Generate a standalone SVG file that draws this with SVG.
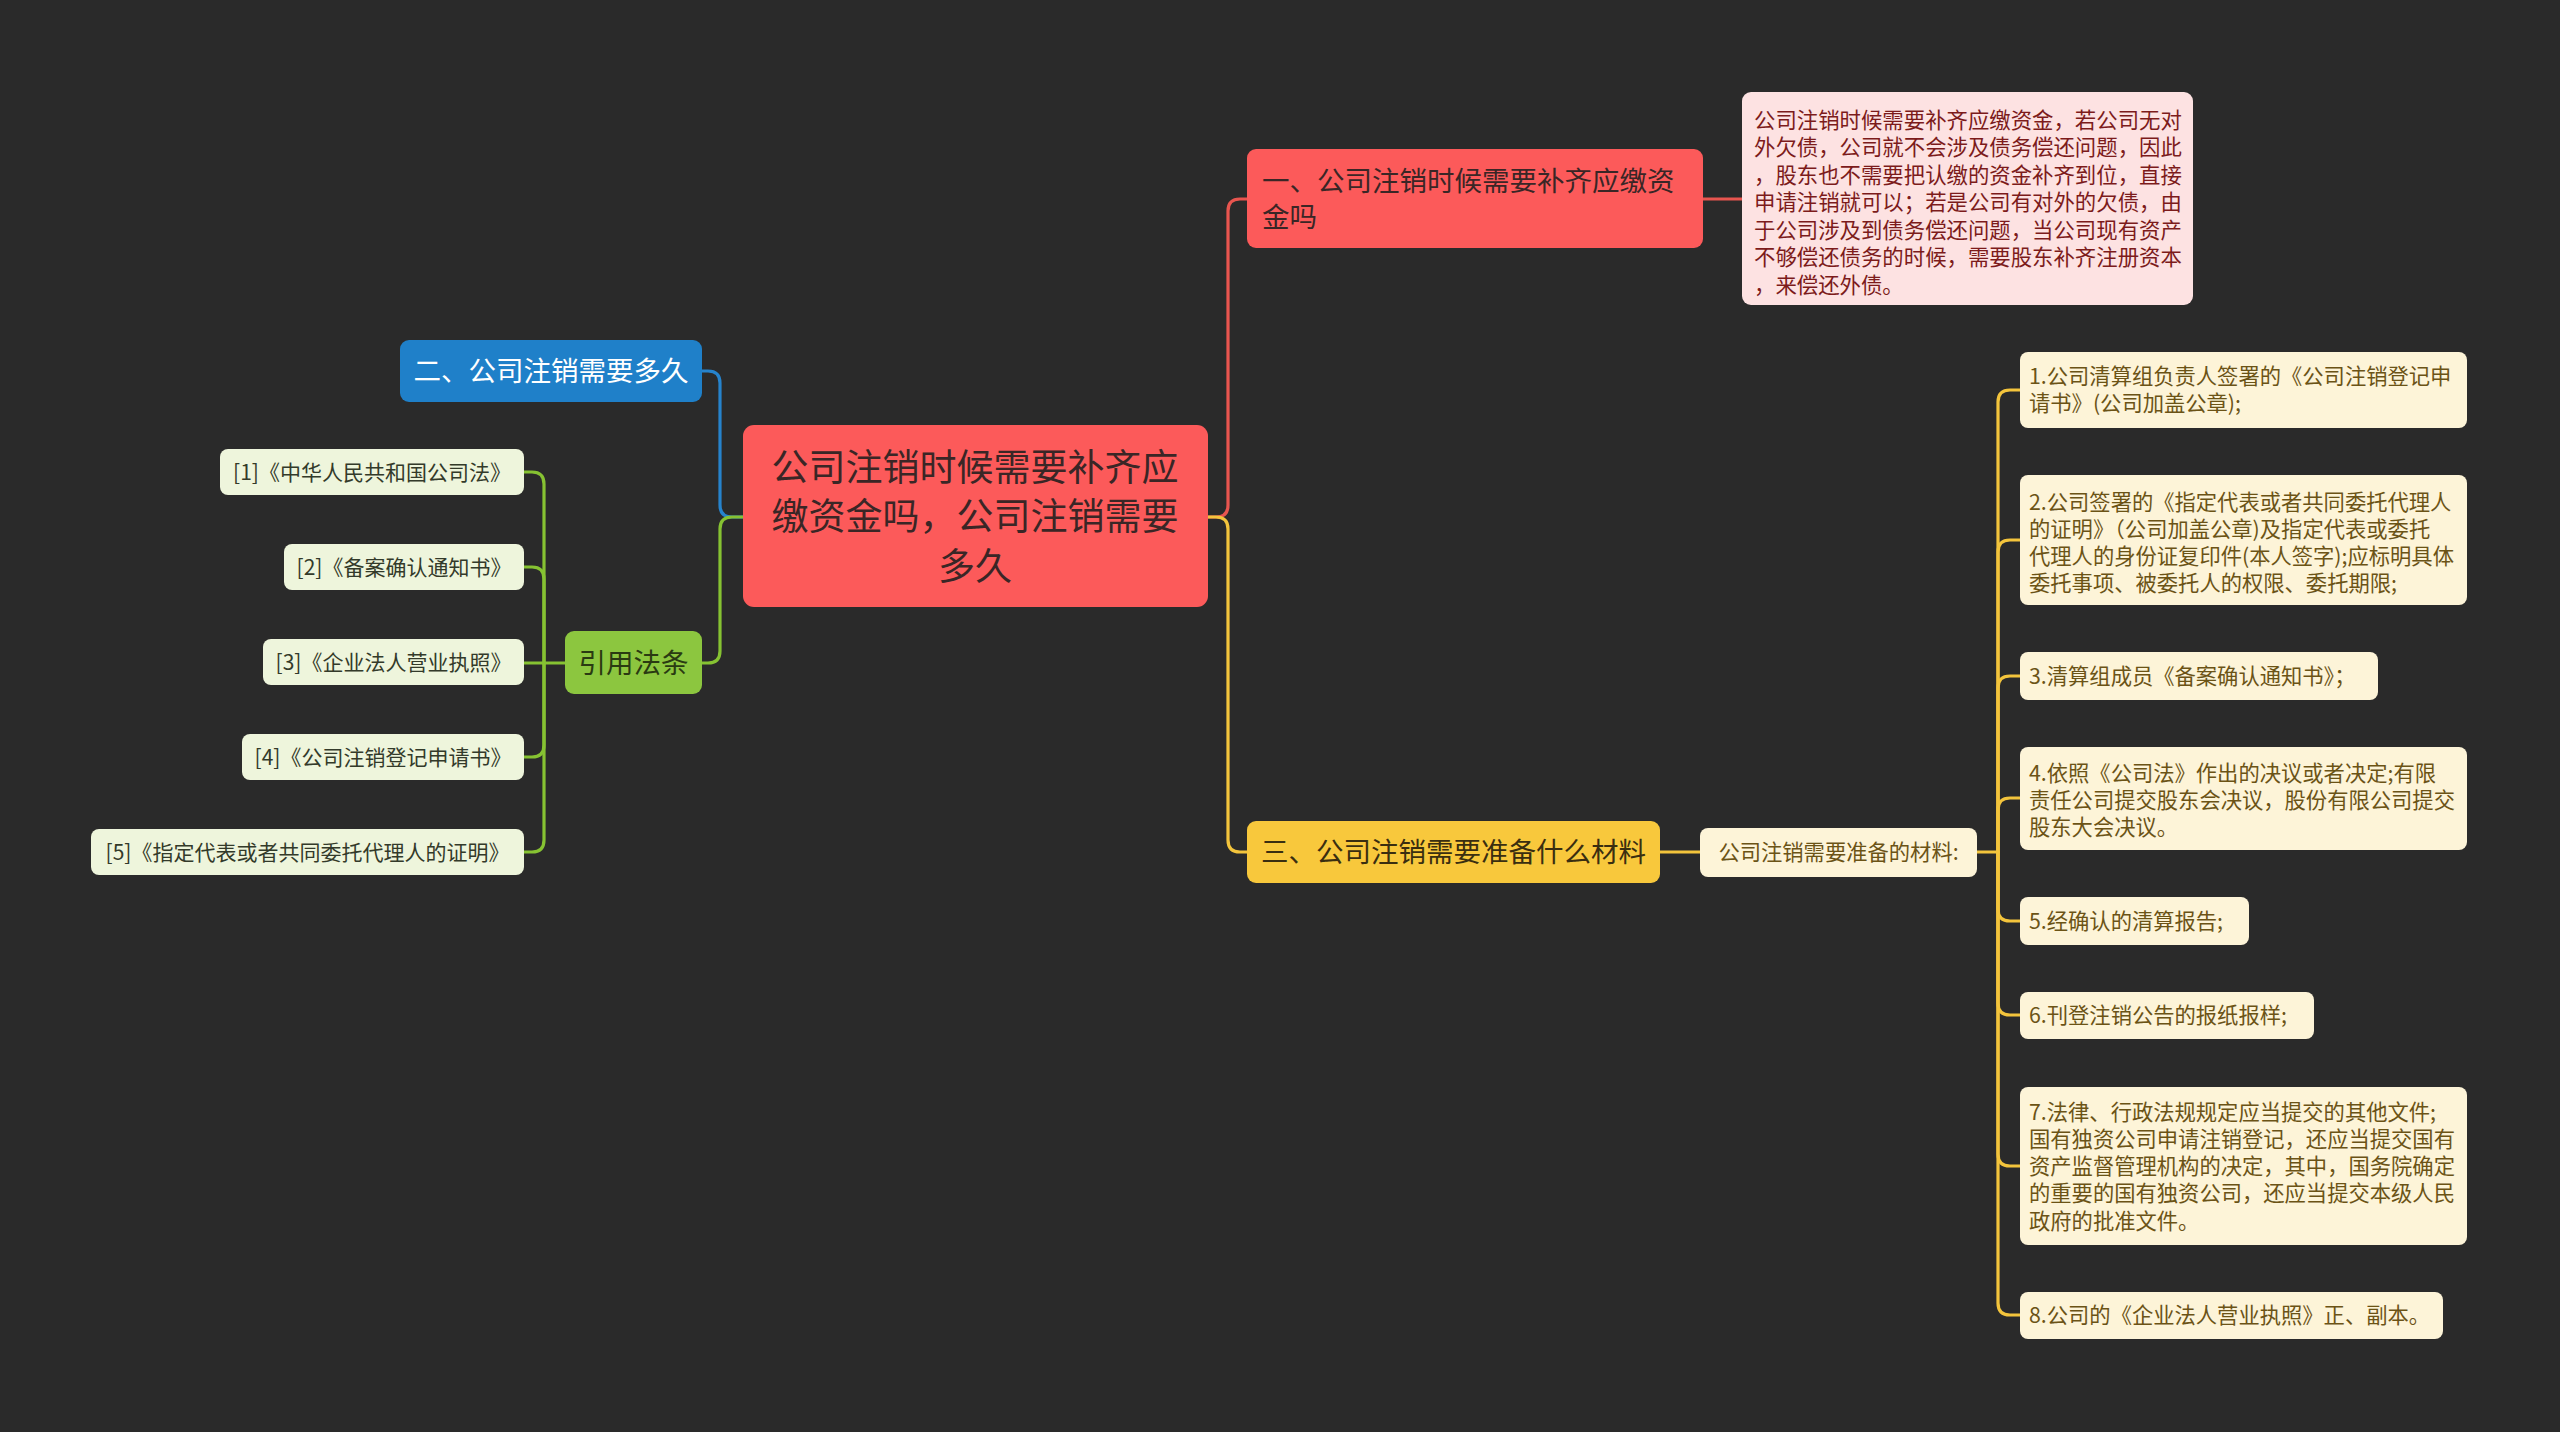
<svg xmlns="http://www.w3.org/2000/svg" width="2560" height="1432" viewBox="0 0 2560 1432">
<style>
text{font-family:"Noto Sans CJK SC","Noto Sans",sans-serif;}
.c{fill:none;stroke-width:3.2;stroke-linecap:round;stroke-linejoin:round;}
.red{stroke:#e8554f;}
.blue{stroke:#2683cc;}
.green{stroke:#86c232;}
.yel{stroke:#f3c43c;}
.root{fill:#fc5a5a;}
.roott{font-size:37px;fill:#3a2626;text-anchor:middle;}
.n1{fill:#fc5a5a;}
.n1t{font-size:27.5px;fill:#3a2626;}
.pink{fill:#fde2e2;}
.pinkt{font-size:21.4px;fill:#7c1b1b;}
.n2{fill:#1f80c9;}
.n2t{font-size:27.5px;fill:#ffffff;text-anchor:middle;}
.ng{fill:#8cc63f;}
.ngt{font-size:27.5px;fill:#2a3a12;text-anchor:middle;}
.lg{fill:#eef5dc;}
.lgt{font-size:21px;fill:#333a2a;text-anchor:middle;}
.n3{fill:#f8c83c;}
.n3t{font-size:27.5px;fill:#3a2e10;text-anchor:middle;}
.cr{fill:#fdf4d8;}
.crt{font-size:21.3px;fill:#6b5316;}
</style>
<rect x="0" y="0" width="2560" height="1432" fill="#2a2a2a"/>

<g id="connectors">
<path class="c blue" d="M743,517 H732 Q720,517 720,505 V383 Q720,371 708,371 H702"/>
<path class="c green" d="M743,517 H732 Q720,517 720,529 V651 Q720,663 708,663 H702"/>
<path class="c green" d="M565,663 H544"/>
<path class="c green" d="M544,663 V484 Q544,472 532,472 H524"/>
<path class="c green" d="M544,663 V579 Q544,567 532,567 H524"/>
<path class="c green" d="M544,663 H524"/>
<path class="c green" d="M544,663 V745 Q544,757 532,757 H524"/>
<path class="c green" d="M544,663 V840 Q544,852 532,852 H524"/>
<path class="c red" d="M1208,517 H1216 Q1228,517 1228,505 V211 Q1228,199 1240,199 H1247"/>
<path class="c red" d="M1703,199 H1742"/>
<path class="c yel" d="M1208,517 H1216 Q1228,517 1228,529 V840 Q1228,852 1240,852 H1247"/>
<path class="c yel" d="M1660,852 H1700"/>
<path class="c yel" d="M1977,852 H1998"/>
<path class="c yel" d="M1998,852 V402 Q1998,390 2010,390 H2020"/>
<path class="c yel" d="M1998,852 V552 Q1998,540 2010,540 H2020"/>
<path class="c yel" d="M1998,852 V688 Q1998,676 2010,676 H2020"/>
<path class="c yel" d="M1998,852 V810 Q1998,798 2010,798 H2020"/>
<path class="c yel" d="M1998,852 V909 Q1998,921 2010,921 H2020"/>
<path class="c yel" d="M1998,852 V1003 Q1998,1015 2010,1015 H2020"/>
<path class="c yel" d="M1998,852 V1154 Q1998,1166 2010,1166 H2020"/>
<path class="c yel" d="M1998,852 V1303 Q1998,1315 2010,1315 H2020"/>
</g>

<g id="root">
<rect class="root" x="743" y="425" width="465" height="182" rx="11"/>
<text class="roott" x="975" y="481">公司注销时候需要补齐应</text>
<text class="roott" x="975" y="530">缴资金吗，公司注销需要</text>
<text class="roott" x="975" y="580">多久</text>
</g>

<g id="node-1">
<rect class="n1" x="1247" y="149" width="456" height="99" rx="9"/>
<text class="n1t" x="1262" y="191">一、公司注销时候需要补齐应缴资</text>
<text class="n1t" x="1262" y="227">金吗</text>
</g>

<g id="node-1-detail">
<rect class="pink" x="1742" y="92" width="451" height="213" rx="9"/>
<text class="pinkt" x="1754" y="127.5">公司注销时候需要补齐应缴资金，若公司无对</text>
<text class="pinkt" x="1754" y="155">外欠债，公司就不会涉及债务偿还问题，因此</text>
<text class="pinkt" x="1754" y="182.5">，股东也不需要把认缴的资金补齐到位，直接</text>
<text class="pinkt" x="1754" y="210">申请注销就可以；若是公司有对外的欠债，由</text>
<text class="pinkt" x="1754" y="237.5">于公司涉及到债务偿还问题，当公司现有资产</text>
<text class="pinkt" x="1754" y="265">不够偿还债务的时候，需要股东补齐注册资本</text>
<text class="pinkt" x="1754" y="292.5">，来偿还外债。</text>
</g>

<g id="node-2">
<rect class="n2" x="400" y="340" width="302" height="62" rx="9"/>
<text class="n2t" x="551" y="381">二、公司注销需要多久</text>
</g>

<g id="node-law">
<rect class="ng" x="565" y="631" width="137" height="63" rx="9"/>
<text class="ngt" x="633.5" y="673">引用法条</text>
</g>

<g id="law-1">
<rect class="lg" x="220" y="449" width="304" height="46" rx="8"/>
<text class="lgt" x="372" y="479.5">[1]《中华人民共和国公司法》</text>
</g>
<g id="law-2">
<rect class="lg" x="284" y="544" width="240" height="46" rx="8"/>
<text class="lgt" x="404" y="574.5">[2]《备案确认通知书》</text>
</g>
<g id="law-3">
<rect class="lg" x="263" y="639" width="261" height="46" rx="8"/>
<text class="lgt" x="393.5" y="669.5">[3]《企业法人营业执照》</text>
</g>
<g id="law-4">
<rect class="lg" x="242" y="734" width="282" height="46" rx="8"/>
<text class="lgt" x="383" y="764.5">[4]《公司注销登记申请书》</text>
</g>
<g id="law-5">
<rect class="lg" x="91" y="829" width="433" height="46" rx="8"/>
<text class="lgt" x="307.5" y="859.5">[5]《指定代表或者共同委托代理人的证明》</text>
</g>

<g id="node-3">
<rect class="n3" x="1247" y="821" width="413" height="62" rx="9"/>
<text class="n3t" x="1453.5" y="862">三、公司注销需要准备什么材料</text>
</g>

<g id="node-3-sub">
<rect class="cr" x="1700" y="828" width="277" height="49" rx="8"/>
<text class="crt" x="1838.5" y="859.5" style="text-anchor:middle">公司注销需要准备的材料:</text>
</g>

<g id="item-1">
<rect class="cr" x="2020" y="352" width="447" height="76" rx="8"/>
<text class="crt" x="2029" y="384">1.公司清算组负责人签署的《公司注销登记申</text>
<text class="crt" x="2029" y="411.3">请书》(公司加盖公章);</text>
</g>
<g id="item-2">
<rect class="cr" x="2020" y="475" width="447" height="130" rx="8"/>
<text class="crt" x="2029" y="509.5">2.公司签署的《指定代表或者共同委托代理人</text>
<text class="crt" x="2029" y="536.8">的证明》（公司加盖公章)及指定代表或委托</text>
<text class="crt" x="2029" y="564.1">代理人的身份证复印件(本人签字);应标明具体</text>
<text class="crt" x="2029" y="591.4">委托事项、被委托人的权限、委托期限;</text>
</g>
<g id="item-3">
<rect class="cr" x="2020" y="652" width="358" height="48" rx="8"/>
<text class="crt" x="2029" y="683.5">3.清算组成员《备案确认通知书》；</text>
</g>
<g id="item-4">
<rect class="cr" x="2020" y="747" width="447" height="103" rx="8"/>
<text class="crt" x="2029" y="780.5">4.依照《公司法》作出的决议或者决定;有限</text>
<text class="crt" x="2029" y="807.8">责任公司提交股东会决议，股份有限公司提交</text>
<text class="crt" x="2029" y="835.1">股东大会决议。</text>
</g>
<g id="item-5">
<rect class="cr" x="2020" y="897" width="229" height="48" rx="8"/>
<text class="crt" x="2029" y="928.5">5.经确认的清算报告;</text>
</g>
<g id="item-6">
<rect class="cr" x="2020" y="992" width="294" height="47" rx="8"/>
<text class="crt" x="2029" y="1023">6.刊登注销公告的报纸报样;</text>
</g>
<g id="item-7">
<rect class="cr" x="2020" y="1087" width="447" height="158" rx="8"/>
<text class="crt" x="2029" y="1119.5">7.法律、行政法规规定应当提交的其他文件;</text>
<text class="crt" x="2029" y="1146.8">国有独资公司申请注销登记，还应当提交国有</text>
<text class="crt" x="2029" y="1174.1">资产监督管理机构的决定，其中，国务院确定</text>
<text class="crt" x="2029" y="1201.4">的重要的国有独资公司，还应当提交本级人民</text>
<text class="crt" x="2029" y="1228.7">政府的批准文件。</text>
</g>
<g id="item-8">
<rect class="cr" x="2020" y="1292" width="423" height="47" rx="8"/>
<text class="crt" x="2029" y="1323">8.公司的《企业法人营业执照》正、副本。</text>
</g>
</svg>
